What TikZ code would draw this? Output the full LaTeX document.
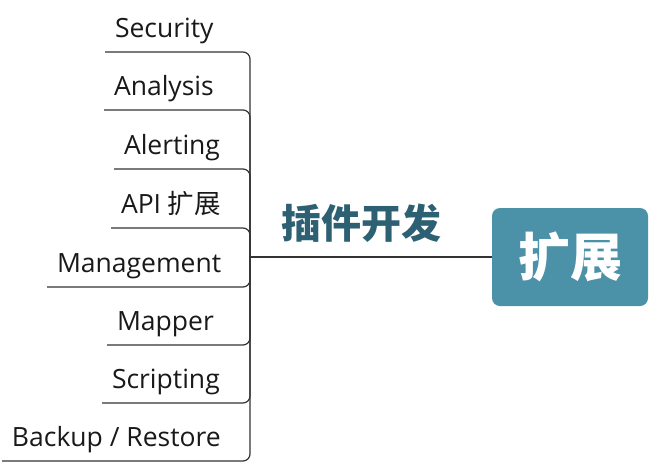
\documentclass[tikz,border=0pt]{standalone}
\usepackage{fontspec}
\setmainfont{Open Sans}
\newfontfamily\cjk{Noto Sans CJK SC}
\definecolor{rootfill}{HTML}{4B91A8}
\definecolor{labelcol}{HTML}{2D6072}
\definecolor{linecol}{HTML}{333333}
\begin{document}
\begin{tikzpicture}[x=1pt,y=-1pt]
\tikzset{
  leaf/.style={font=\fontsize{26.5}{31}\selectfont, anchor=south west, inner xsep=10pt, inner ysep=9pt, text height=18pt, text depth=6pt, outer sep=0pt, text=black!90},
  conn/.style={draw=linecol, line width=1.2pt, rounded corners=7pt},
  rootbox/.style={fill=rootfill, rounded corners=8pt, minimum width=156pt, minimum height=98pt, inner sep=0pt, text=white, font=\cjk\bfseries\fontsize{52}{56}\selectfont},
  mainlabel/.style={text=labelcol, font=\cjk\bfseries\fontsize{40}{44}\selectfont, inner sep=0pt}
}
\useasboundingbox (0,0) rectangle (650,475);
\coordinate (hub) at (250,257);
\node[rootbox] (root) at (570,257) {扩展};
\node[mainlabel] (lab) at (361,223) {插件开发};

\node[leaf] (n1) at (105,52) {Security};
\node[leaf] (n2) at (104,110) {Analysis};
\node[leaf] (n3) at (114,169) {Alerting};
\node[leaf] (n4) at (111,228) {API {\cjk 扩展}};
\node[leaf] (n5) at (47,287) {Management};
\node[leaf] (n6) at (107,345) {Mapper};
\node[leaf] (n7) at (102,403) {Scripting};
\node[leaf] (n8) at (2,461) {Backup / Restore};

\draw[conn] (hub) -- (root.west);
\foreach \n in {n1,n2,n3,n4,n5,n6,n7,n8}
  \draw[conn] (hub) |- (\n.south west);
\end{tikzpicture}
\end{document}
